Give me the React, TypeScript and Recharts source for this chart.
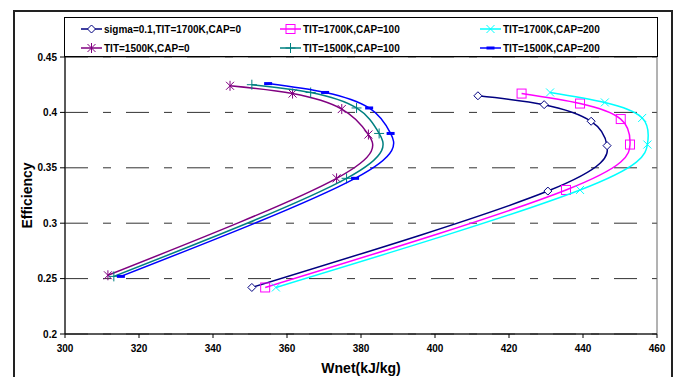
import React from 'react';
import { ScatterChart, Scatter, XAxis, YAxis, CartesianGrid, ReferenceArea, Label } from 'recharts';

// Wnet (kJ/kg) and cycle efficiency along each curve, in drawing order
const s1700cap0Wnet = [350.5, 430.5, 446.5, 442.2, 429.5, 411.6];
const s1700cap0Eff = [0.242, 0.329, 0.37, 0.392, 0.407, 0.415];

const s1700cap100Wnet = [354.1, 435.4, 452.7, 450.2, 439.2, 423.4];
const s1700cap100Eff = [0.242, 0.33, 0.371, 0.394, 0.408, 0.417];

const s1700cap200Wnet = [357, 439.2, 457.4, 456, 445.9, 431.1];
const s1700cap200Eff = [0.242, 0.33, 0.371, 0.395, 0.409, 0.418];

const s1500cap0Wnet = [311.6, 373.4, 382, 374.8, 361.5, 344.6];
const s1500cap0Eff = [0.253, 0.3405, 0.38, 0.403, 0.417, 0.424];

const s1500cap100Wnet = [313.2, 376.1, 384.9, 378.8, 366.4, 350.5];
const s1500cap100Eff = [0.252, 0.3405, 0.381, 0.404, 0.418, 0.425];

const s1500cap200Wnet = [315.1, 378.4, 388, 382.2, 370.3, 354.9];
const s1500cap200Eff = [0.252, 0.3405, 0.381, 0.404, 0.418, 0.426];

const xTicks = [300, 320, 340, 360, 380, 400, 420, 440, 460];
const yTicks = [0.2, 0.25, 0.3, 0.35, 0.4, 0.45];

type MarkerKind = 'diamond' | 'square' | 'cross' | 'star' | 'plus' | 'dash';

const toPoints = (wnet: number[], eff: number[]) => wnet.map((x, i) => ({ x, y: eff[i] }));

const series = [
  { name: 'sigma=0.1,TIT=1700K,CAP=0', color: '#000080', marker: 'diamond' as MarkerKind, data: toPoints(s1700cap0Wnet, s1700cap0Eff) },
  { name: 'TIT=1700K,CAP=100', color: '#FF00FF', marker: 'square' as MarkerKind, data: toPoints(s1700cap100Wnet, s1700cap100Eff) },
  { name: 'TIT=1700K,CAP=200', color: '#00FFFF', marker: 'cross' as MarkerKind, data: toPoints(s1700cap200Wnet, s1700cap200Eff) },
  { name: 'TIT=1500K,CAP=0', color: '#800080', marker: 'star' as MarkerKind, data: toPoints(s1500cap0Wnet, s1500cap0Eff) },
  { name: 'TIT=1500K,CAP=100', color: '#008080', marker: 'plus' as MarkerKind, data: toPoints(s1500cap100Wnet, s1500cap100Eff) },
  { name: 'TIT=1500K,CAP=200', color: '#0000FF', marker: 'dash' as MarkerKind, data: toPoints(s1500cap200Wnet, s1500cap200Eff) },
];

const FONT = '"Liberation Sans", Arial, sans-serif';

const Marker = ({ kind, cx, cy, color }: { kind: MarkerKind; cx: number; cy: number; color: string }) => {
  const sw = 1;
  switch (kind) {
    case 'diamond':
      return (
        <polygon
          points={`${cx},${cy - 4} ${cx + 4},${cy} ${cx},${cy + 4} ${cx - 4},${cy}`}
          fill="#fff"
          stroke={color}
          strokeWidth={sw}
        />
      );
    case 'square':
      return <rect x={cx - 4.5} y={cy - 4.5} width={9} height={9} fill="none" stroke={color} strokeWidth={sw} />;
    case 'cross':
      return (
        <g stroke={color} strokeWidth={sw}>
          <line x1={cx - 4} y1={cy - 4} x2={cx + 4} y2={cy + 4} />
          <line x1={cx - 4} y1={cy + 4} x2={cx + 4} y2={cy - 4} />
        </g>
      );
    case 'star':
      return (
        <g stroke={color} strokeWidth={sw}>
          <line x1={cx - 4} y1={cy - 4} x2={cx + 4} y2={cy + 4} />
          <line x1={cx - 4} y1={cy + 4} x2={cx + 4} y2={cy - 4} />
          <line x1={cx} y1={cy - 5} x2={cx} y2={cy + 5} />
        </g>
      );
    case 'plus':
      return (
        <g stroke={color} strokeWidth={sw}>
          <line x1={cx - 5} y1={cy} x2={cx + 5} y2={cy} />
          <line x1={cx} y1={cy - 5} x2={cx} y2={cy + 5} />
        </g>
      );
    default:
      return <rect x={cx - 4} y={cy - 1.5} width={8} height={3} fill={color} />;
  }
};

const LegendBox = () => (
  <div
    style={{
      position: 'absolute',
      left: 64,
      top: 17,
      width: 592,
      height: 38,
      border: '1px solid #000',
      background: '#fff',
      fontFamily: FONT,
      fontSize: 10,
      fontWeight: 'bold',
    }}
  >
    {series.map((s, i) => {
      const col = i % 3;
      const row = Math.floor(i / 3);
      const left = [16, 215, 415][col];
      const top = row === 0 ? 4 : 23;
      return (
        <div key={s.name} style={{ position: 'absolute', left, top, height: 14, display: 'flex', alignItems: 'center' }}>
          <svg width={21} height={14} style={{ marginRight: 2 }}>
            <line x1={0} y1={7} x2={21} y2={7} stroke={s.color} strokeWidth={1.5} />
            <Marker kind={s.marker} cx={10.5} cy={7} color={s.color} />
          </svg>
          <span>{s.name}</span>
        </div>
      );
    })}
  </div>
);

export default function App() {
  return (
    <div style={{ position: 'absolute', left: 0, top: 0, width: 676, height: 377, background: '#fff', overflow: 'hidden' }}>
      <div
        style={{
          position: 'absolute',
          left: 13,
          top: 10,
          width: 656,
          height: 380,
          border: '2px solid #222',
        }}
      />
      <div style={{ position: 'absolute', left: 0, top: 0 }}>
        <ScatterChart
          width={676}
          height={377}
          margin={{ top: 57, right: 19, bottom: 0, left: 15 }}
          style={{ fontFamily: FONT }}
        >
          <CartesianGrid vertical={false} stroke="#333" strokeDasharray="23 15 8 15" />
          <ReferenceArea x1={300} x2={460} y1={0.2} y2={0.45} fill="none" stroke="#666" strokeWidth={1} />
          <XAxis
            type="number"
            dataKey="x"
            domain={[300, 460]}
            ticks={xTicks}
            height={43}
            stroke="#000"
            tickSize={4}
            tickMargin={7}
            tick={{ fontSize: 10, fontWeight: 'bold', fill: '#000' }}
            allowDataOverflow
          >
            <Label
              value="Wnet(kJ/kg)"
              position="insideBottom"
              offset={4}
              style={{ fontSize: 14, fontWeight: 'bold', fill: '#000' }}
            />
          </XAxis>
          <YAxis
            type="number"
            dataKey="y"
            domain={[0.2, 0.45]}
            ticks={yTicks}
            width={50}
            stroke="#000"
            tickSize={5}
            tickMargin={3}
            tick={{ fontSize: 10, fontWeight: 'bold', fill: '#000' }}
            allowDataOverflow
          >
            <Label
              value="Efficiency"
              angle={-90}
              position="insideLeft"
              offset={12}
              style={{ fontSize: 14, fontWeight: 'bold', fill: '#000', textAnchor: 'middle' }}
            />
          </YAxis>
          {series.map((s) => (
            <Scatter
              key={s.name}
              name={s.name}
              data={s.data}
              line={{ stroke: s.color, strokeWidth: 1.5 }}
              lineType="joint"
              lineJointType="natural"
              isAnimationActive={false}
              shape={(p: any) => <Marker kind={s.marker} cx={p.cx} cy={p.cy} color={s.color} />}
            />
          ))}
        </ScatterChart>
      </div>
      <LegendBox />
    </div>
  );
}
